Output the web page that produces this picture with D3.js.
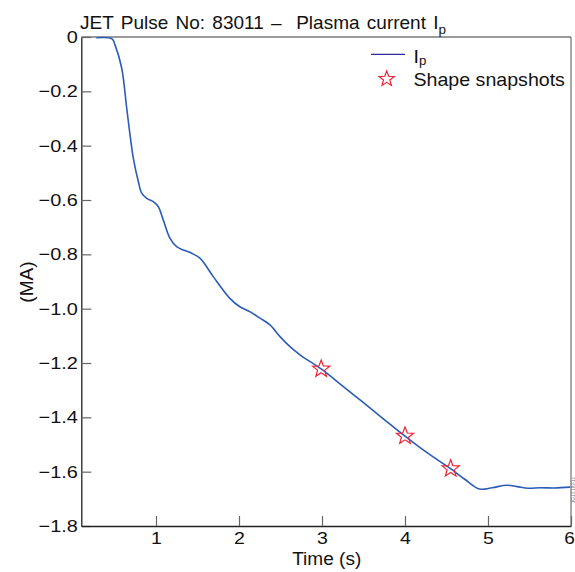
<!DOCTYPE html>
<html>
<head>
<meta charset="utf-8">
<script src="https://cdn.jsdelivr.net/npm/d3@7"></script>
<style>
  html, body { margin: 0; padding: 0; background: #fff; }
  svg { display: block; font-family: Helvetica, Arial, "Liberation Sans", sans-serif; }
  text { white-space: pre; }
</style>
</head>
<body>
<svg id="chart" width="575" height="572"></svg>
<script>
// ---- data ----
const timeS = [0.28, 0.47, 0.506, 0.587, 0.647, 0.687, 0.727, 0.787, 0.828, 0.888, 0.967,
  1.028, 1.088, 1.169, 1.249, 1.329, 1.43, 1.532, 1.69, 1.89, 2.01, 2.13, 2.253, 2.373,
  2.494, 2.614, 2.735, 2.99, 3.25, 3.5, 3.75, 4.0, 4.27, 4.55, 4.72, 4.9, 5.05, 5.225,
  5.35, 5.485, 5.63, 5.8, 5.99];
const currentMA = [-0.003, -0.007, -0.029, -0.115, -0.262, -0.36, -0.447, -0.532, -0.575,
  -0.594, -0.606, -0.625, -0.674, -0.741, -0.772, -0.784, -0.796, -0.815, -0.882, -0.962,
  -0.993, -1.011, -1.035, -1.06, -1.103, -1.14, -1.17, -1.222, -1.285, -1.346, -1.408,
  -1.469, -1.531, -1.589, -1.628, -1.664, -1.659, -1.650, -1.655, -1.661, -1.659, -1.660,
  -1.657];
const snapTime = [2.99, 4.0, 4.55];
const snapMA = [-1.222, -1.469, -1.589];
const xTicks = [1, 2, 3, 4, 5, 6];
const yTicks = [0, -0.2, -0.4, -0.6, -0.8, -1.0, -1.2, -1.4, -1.6, -1.8];
const titleText = "JET Pulse No: 83011 \u2013  Plasma current I";
const titleSub = "p";
const xLabel = "Time (s)";
const yLabel = "(MA)";
const legendLine = "I";
const legendLineSub = "p";
const legendStar = "Shape snapshots";
const sideTag = "JG13.183-1c";

// ---- layout ----
const svg = d3.select("#chart");
const L = 81.3, R = 571, T = 37, B = 526;
const x = d3.scaleLinear().domain([0.1, 6]).range([L, R]);
const y = d3.scaleLinear().domain([0, -1.8]).range([T, B]);

const curveColor = "#2c5cb8";
const starColor = "#ee2233";
const FONT = "Helvetica, Arial, 'Liberation Sans', sans-serif";

function starPath(r) {
  const ri = r * 0.42;
  const pts = [];
  for (let i = 0; i < 10; i++) {
    const a = -Math.PI / 2 + i * Math.PI / 5;
    const rr = i % 2 === 0 ? r : ri;
    pts.push([rr * Math.cos(a), rr * Math.sin(a)]);
  }
  return "M" + pts.map(p => p[0].toFixed(2) + "," + p[1].toFixed(2)).join("L") + "Z";
}

// frame top/right
svg.append("line").attr("x1", L).attr("x2", R).attr("y1", T).attr("y2", T)
  .attr("stroke", "#7a7a7a").attr("stroke-width", 1.3);
svg.append("line").attr("x1", R).attr("x2", R).attr("y1", T).attr("y2", B)
  .attr("stroke", "#7a7a7a").attr("stroke-width", 1.3);

// axes
const yAxis = d3.axisLeft(y).tickValues(yTicks)
  .tickFormat(d => d === 0 ? "0" : d3.format(".1f")(d))
  .tickSizeInner(-10).tickSizeOuter(0).tickPadding(3.5);
const gy = svg.append("g").attr("transform", `translate(${L},0)`).call(yAxis);

const xAxis = d3.axisBottom(x).tickValues(xTicks).tickFormat(d3.format("d"))
  .tickSizeInner(-10).tickSizeOuter(0).tickPadding(5.5);
const gx = svg.append("g").attr("transform", `translate(0,${B})`).call(xAxis);

[gx, gy].forEach(g => {
  g.select(".domain").attr("stroke", "#222").attr("stroke-width", 1.3);
  g.selectAll(".tick line").attr("stroke", "#666").attr("stroke-width", 1.2);
  g.selectAll(".tick text").attr("fill", "#111").style("font-size", "17px")
    .style("font-family", FONT);
});
// widen tick labels horizontally like the reference typeface
gy.selectAll(".tick text").each(function () {
  const t = d3.select(this);
  const tx = +t.attr("x");
  t.attr("x", 0).attr("transform", `translate(${tx},0) scale(1.17,1)`);
});
gx.selectAll(".tick text")
  .attr("transform", d => d === 6 ? "translate(-2,0) scale(1.12,1)" : "scale(1.15,1)");

// curve
const line = d3.line().x((d, i) => x(timeS[i])).y((d, i) => y(currentMA[i]))
  .curve(d3.curveCatmullRom.alpha(0.5));
svg.append("path").attr("d", line(currentMA))
  .attr("fill", "none").attr("stroke", curveColor).attr("stroke-width", 1.6);

// snapshots
svg.append("g").selectAll("path").data(snapTime).join("path")
  .attr("transform", (d, i) => `translate(${x(d)},${y(snapMA[i])})`)
  .attr("d", starPath(9))
  .attr("fill", "none").attr("stroke", starColor).attr("stroke-width", 1.2);

// title
const title = svg.append("text").attr("x", 80).attr("y", 29.3)
  .attr("fill", "#111").style("font-size", "19px").style("word-spacing", "2px");
title.append("tspan").text(titleText);
title.append("tspan").attr("dy", 5).style("font-size", "13.5px").text(titleSub);

// axis labels
svg.append("text").attr("transform", "translate(326.7,565) scale(1.03,1)")
  .attr("text-anchor", "middle").attr("fill", "#111").style("font-size", "18.5px").text(xLabel);
svg.append("text").attr("transform", "translate(32.5,282) rotate(-90) scale(1.03,1)")
  .attr("text-anchor", "middle").attr("fill", "#111").style("font-size", "18.5px").text(yLabel);

// legend
svg.append("line").attr("x1", 371).attr("x2", 405).attr("y1", 54.3).attr("y2", 54.3)
  .attr("stroke", "#2a2a9c").attr("stroke-width", 1.2);
const lt = svg.append("text").attr("transform", "translate(413.5,62.5) scale(1.06,1)")
  .attr("fill", "#111").style("font-size", "18.5px");
lt.append("tspan").text(legendLine);
lt.append("tspan").attr("dy", 2.5).style("font-size", "12.5px").text(legendLineSub);
svg.append("path").attr("transform", "translate(386.7,79)").attr("d", starPath(8))
  .attr("fill", "none").attr("stroke", starColor).attr("stroke-width", 1.2);
svg.append("text").attr("transform", "translate(413.5,85.5) scale(1.06,1)")
  .attr("fill", "#111").style("font-size", "18.5px").text(legendStar);

// tiny side tag
svg.append("text").attr("transform", "translate(574.6,490) rotate(-90)")
  .attr("text-anchor", "middle").attr("fill", "#777").style("font-size", "4.5px").text(sideTag);
</script>
</body>
</html>
